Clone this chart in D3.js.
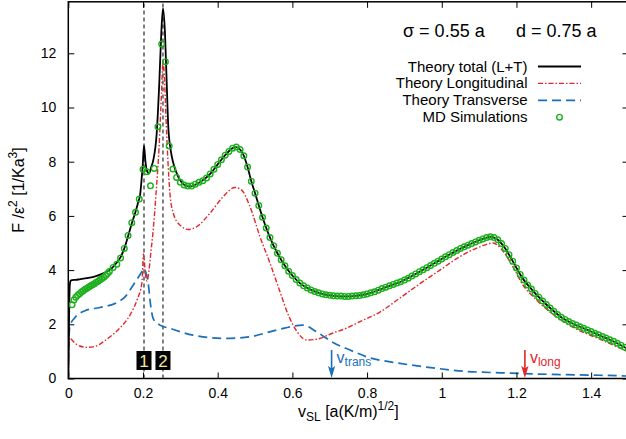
<!DOCTYPE html>
<html><head><meta charset="utf-8">
<script src="https://cdn.jsdelivr.net/npm/d3@7"></script>
<style>
body{margin:0;background:#fff}
svg{display:block}
text{font-family:"Liberation Sans",Arial,Helvetica,sans-serif}
</style>
</head><body>
<svg id="c" width="626" height="439"></svg>
<script>
// ---------- data ----------
const xTicks = [0, 0.2, 0.4, 0.6, 0.8, 1, 1.2, 1.4];
const yTicks = [0, 2, 4, 6, 8, 10, 12];

const totalV = [0,0.001,0.002,0.003,0.004,0.006,0.01,0.02,0.03,0.05,0.07,0.09,0.11,0.12,0.13,0.14,0.15,0.16,0.17,0.18,0.188,0.192,0.196,0.1992,0.2027,0.2062,0.2099,0.2161,0.222,0.2276,0.2367,0.2436,0.249,0.2535,0.2589,0.2635,0.2677,0.2742,0.2811,0.2945,0.31,0.32,0.33,0.34,0.35,0.38,0.40,0.42,0.44,0.45,0.46,0.47,0.48,0.49,0.50,0.52,0.54,0.56,0.58,0.60,0.62,0.65,0.68,0.71,0.74,0.77,0.80,0.83,0.86,0.89,0.92,0.95,0.98,1.01,1.04,1.07,1.10,1.12,1.13,1.14,1.15,1.16,1.17,1.18,1.19,1.20,1.21,1.22,1.24,1.26,1.28,1.30,1.32,1.35,1.38,1.41,1.44,1.47,1.50];
const totalF = [0,1.0,2.2,3.0,3.45,3.6,3.63,3.64,3.66,3.7,3.76,3.86,4.0,4.12,4.28,4.48,4.8,5.25,5.72,6.15,6.55,6.75,7.3,7.85,8.59,8.06,7.69,7.57,7.8,8.06,9.05,10.9,12.75,13.66,12.75,10.9,9.3,8.43,7.95,7.44,7.15,7.09,7.09,7.15,7.22,7.55,7.9,8.24,8.5,8.54,8.45,8.22,7.8,7.28,6.84,5.95,5.2,4.62,4.16,3.8,3.52,3.27,3.12,3.05,3.03,3.05,3.12,3.26,3.42,3.57,3.78,4.01,4.25,4.49,4.72,4.92,5.1,5.2,5.23,5.2,5.12,4.98,4.8,4.57,4.33,4.08,3.84,3.63,3.3,3.0,2.73,2.48,2.26,2.03,1.85,1.67,1.49,1.3,1.07];

const longV = [0,0.001,0.003,0.005,0.01,0.02,0.031,0.05,0.07,0.085,0.1,0.112,0.138,0.165,0.184,0.1973,0.2013,0.2067,0.2107,0.2161,0.2214,0.2268,0.2348,0.2429,0.2495,0.2535,0.2562,0.2616,0.2669,0.2723,0.2811,0.299,0.3213,0.3438,0.3794,0.4142,0.4463,0.4643,0.4865,0.5133,0.54,0.5668,0.589,0.6115,0.6383,0.665,0.7087,0.7454,0.781,0.8345,0.888,0.9416,0.995,1.0487,1.1022,1.137,1.1638,1.1906,1.2174,1.25,1.29,1.357,1.423,1.5];
const longF = [0,0.8,1.45,1.5,1.42,1.28,1.2,1.15,1.18,1.27,1.42,1.54,1.86,2.34,2.9,3.55,4.6,3.85,3.6,4.0,4.7,5.4,6.8,8.5,10.5,11.65,11.4,9.6,8.0,6.8,6.1,5.66,5.5,5.6,6.1,6.7,7.05,6.95,6.34,5.23,4.26,3.2,2.35,1.75,1.42,1.45,1.68,1.86,2.1,2.45,2.97,3.5,4.0,4.5,4.86,5.0,4.7,4.12,3.45,2.95,2.45,1.85,1.45,0.98];

const transV = [0,0.0013,0.0045,0.018,0.0447,0.0849,0.1296,0.1526,0.174,0.1928,0.2027,0.208,0.2142,0.2187,0.2276,0.2455,0.2723,0.3339,0.4241,0.4865,0.558,0.6292,0.665,0.7087,0.7542,0.799,0.888,0.9764,1.0667,1.158,1.244,1.334,1.423,1.5];
const transF = [0,1.4,1.95,2.25,2.5,2.62,2.8,3.02,3.45,3.85,4.04,3.9,3.5,2.9,2.2,1.97,1.85,1.6,1.48,1.54,1.79,1.97,1.72,1.33,1.05,0.8,0.56,0.39,0.26,0.21,0.17,0.14,0.12,0.09];

const mdPoints = [
[0.01,2.72],[0.015,2.9],[0.02,3.0],[0.025,3.07],[0.03,3.13],[0.035,3.19],[0.04,3.24],[0.045,3.29],[0.05,3.33],[0.055,3.38],[0.06,3.42],[0.065,3.46],[0.07,3.5],[0.075,3.55],[0.08,3.59],[0.085,3.64],[0.09,3.69],[0.095,3.74],[0.1,3.8],[0.105,3.87],[0.11,3.95],
[0.12,4.1],[0.13,4.22],[0.14,4.45],[0.15,4.8],[0.16,5.28],[0.17,5.75],[0.18,6.13],[0.19,6.62],[0.2,7.72],[0.21,7.63],[0.22,7.11],[0.23,7.75],[0.24,9.29],[0.25,12.34],[0.26,11.69],[0.27,8.58],[0.28,7.73],[0.29,7.42],[0.3,7.24],[0.31,7.14],[0.32,7.1],[0.33,7.1],[0.34,7.17],[0.35,7.24],
[0.36,7.3],[0.37,7.4],[0.38,7.55],[0.39,7.72],[0.4,7.9],[0.41,8.07],[0.42,8.24],[0.43,8.38],[0.44,8.5],[0.45,8.54],[0.46,8.45],[0.47,8.22],[0.48,7.8],[0.49,7.28],[0.5,6.84],[0.51,6.38],[0.52,5.95],[0.53,5.55],[0.54,5.2],[0.55,4.9],[0.56,4.62],[0.57,4.38],[0.58,4.16],[0.59,3.96],[0.6,3.8],
[0.61,3.65],[0.62,3.52],[0.63,3.42],[0.64,3.34],[0.65,3.27],[0.66,3.21],[0.67,3.16],[0.68,3.12],[0.69,3.09],[0.7,3.07],[0.71,3.05],[0.72,3.04],[0.73,3.04],[0.74,3.03],[0.75,3.03],[0.76,3.04],[0.77,3.05],[0.78,3.06],[0.79,3.09],[0.8,3.12],
[0.81,3.16],[0.82,3.2],[0.83,3.26],[0.84,3.32],[0.85,3.37],[0.86,3.42],[0.87,3.47],[0.88,3.52],[0.89,3.57],[0.9,3.63],[0.91,3.7],[0.92,3.78],[0.93,3.86],[0.94,3.94],[0.95,4.01],[0.96,4.09],[0.97,4.17],[0.98,4.25],[0.99,4.33],[1.0,4.41],
[1.01,4.49],[1.02,4.57],[1.03,4.65],[1.04,4.72],[1.05,4.8],[1.06,4.86],[1.07,4.92],[1.08,4.98],[1.09,5.04],[1.1,5.1],[1.11,5.15],[1.12,5.2],[1.13,5.23],[1.14,5.2],[1.15,5.12],[1.16,4.98],[1.17,4.8],[1.18,4.57],[1.19,4.33],[1.2,4.08],
[1.21,3.84],[1.22,3.63],[1.23,3.45],[1.24,3.3],[1.25,3.14],[1.26,3.0],[1.27,2.86],[1.28,2.73],[1.29,2.6],[1.3,2.48],[1.31,2.36],[1.32,2.26],[1.33,2.18],[1.34,2.1],[1.35,2.03],[1.36,1.97],[1.37,1.91],[1.38,1.85],[1.39,1.79],[1.4,1.73],
[1.41,1.67],[1.42,1.61],[1.43,1.55],[1.44,1.49],[1.45,1.43],[1.46,1.37],[1.47,1.3],[1.48,1.23],[1.49,1.15],[1.5,1.07]
];

const markerV = [0.2027, 0.2535];
const markerLabels = ["1", "2"];
const vTrans = 0.705, vLong = 1.2226;
const legendLabels = ["Theory total (L+T)", "Theory Longitudinal", "Theory Transverse", "MD Simulations"];

// ---------- styles ----------
const C_BLACK = "#000", C_RED = "#e3262b", C_BLUE = "#1a6fba", C_GREEN = "#1cb01c";

const svg = d3.select("#c");
const x = d3.scaleLinear().domain([0, 1.5]).range([68.3, 628.5]);
const y = d3.scaleLinear().domain([0, 13.9]).range([378.5, 1.8]);

svg.append("clipPath").attr("id", "clip").append("rect")
  .attr("x", x(0)).attr("y", y(13.9)).attr("width", x(1.5) - x(0)).attr("height", y(0) - y(13.9));
const plot = svg.append("g").attr("clip-path", "url(#clip)");

// vertical dashed marker lines
plot.selectAll("line.mark").data(markerV).join("line").attr("class", "mark")
  .attr("x1", d => x(d)).attr("x2", d => x(d)).attr("y1", y(0)).attr("y2", y(13.9))
  .attr("stroke", "#000").attr("stroke-width", 1).attr("stroke-dasharray", "4,3");

const line = d3.line().x(d => x(d[0])).y(d => y(d[1])).curve(d3.curveMonotoneX);

plot.append("path").datum(d3.zip(transV, transF)).attr("d", line)
  .attr("fill", "none").attr("stroke", C_BLUE).attr("stroke-width", 1.7).attr("stroke-dasharray", "9,5");
plot.append("path").datum(d3.zip(longV, longF)).attr("d", line)
  .attr("fill", "none").attr("stroke", C_RED).attr("stroke-width", 1.4).attr("stroke-dasharray", "5,2,1.5,2");
plot.append("path").datum(d3.zip(totalV, totalF)).attr("d", line)
  .attr("fill", "none").attr("stroke", C_BLACK).attr("stroke-width", 1.8);

plot.selectAll("circle.md").data(mdPoints).join("circle").attr("class", "md")
  .attr("cx", d => x(d[0])).attr("cy", d => y(d[1])).attr("r", 2.8)
  .attr("fill", "none").attr("stroke", C_GREEN).attr("stroke-width", 1.4);

// numbered boxes
const boxes = svg.append("g");
markerV.forEach((v, i) => {
  boxes.append("rect").attr("x", x(v) - 7.5).attr("y", 351).attr("width", 15).attr("height", 19).attr("fill", "#000");
  boxes.append("text").attr("x", x(v)).attr("y", 367).attr("text-anchor", "middle")
    .attr("font-size", 17).attr("fill", "#f3eaa5").text(markerLabels[i]);
});

// axes
const fmt = d => String(+d.toFixed(1));
function styleAxis(g) {
  g.select(".domain").remove();
  g.selectAll(".tick line").attr("stroke", "#000").attr("stroke-width", 1);
  g.selectAll("text").attr("font-size", 14).attr("fill", "#000")
    .attr("font-family", '"Liberation Sans",Arial,sans-serif');
}
svg.append("g").attr("transform", `translate(0,${y(0)})`)
  .call(d3.axisBottom(x).tickValues(xTicks).tickSizeInner(-6).tickSizeOuter(0).tickPadding(10).tickFormat(fmt)).call(styleAxis);
svg.append("g").attr("transform", `translate(0,${y(13.9)})`)
  .call(d3.axisTop(x).tickValues(xTicks).tickSizeInner(-6).tickSizeOuter(0).tickFormat("")).call(styleAxis);
svg.append("g").attr("transform", `translate(${x(0)},0)`)
  .call(d3.axisLeft(y).tickValues(yTicks).tickSizeInner(-6).tickSizeOuter(0).tickPadding(12).tickFormat(d => String(d))).call(styleAxis);
svg.append("g").attr("transform", `translate(${x(1.5)},0)`)
  .call(d3.axisRight(y).tickValues(yTicks).tickSizeInner(-6).tickSizeOuter(0).tickFormat("")).call(styleAxis);

// frame
svg.append("rect").attr("x", x(0)).attr("y", y(13.9)).attr("width", x(1.5) - x(0)).attr("height", y(0) - y(13.9))
  .attr("fill", "none").attr("stroke", "#000").attr("stroke-width", 1.5);

// axis titles
const xl = svg.append("text").attr("x", 298).attr("y", 417).attr("font-size", 16).attr("fill", "#000");
xl.append("tspan").text("v");
xl.append("tspan").attr("font-size", 12).attr("dy", 4).text("SL");
xl.append("tspan").attr("dy", -4).text(" [a(K/m)");
xl.append("tspan").attr("font-size", 12).attr("dy", -7).text("1/2");
xl.append("tspan").attr("dy", 7).text("]");

const yl = svg.append("text").attr("transform", "translate(24,190) rotate(-90)")
  .attr("text-anchor", "middle").attr("font-size", 16).attr("fill", "#000");
yl.append("tspan").text("F /ε");
yl.append("tspan").attr("font-size", 12).attr("dy", -7).text("2");
yl.append("tspan").attr("dy", 7).text(" [1/Ka");
yl.append("tspan").attr("font-size", 12).attr("dy", -7).text("3");
yl.append("tspan").attr("dy", 7).text("]");

// parameters
svg.append("text").attr("x", 403).attr("y", 36.5).attr("font-size", 18).text("σ = 0.55 a");
svg.append("text").attr("x", 516).attr("y", 36.5).attr("font-size", 18).text("d = 0.75 a");

// legend
const lg = svg.append("g");
const rowY = i => 71.5 + i * 16.9;
legendLabels.forEach((t, i) => {
  lg.append("text").attr("x", 527.5).attr("y", rowY(i)).attr("text-anchor", "end").attr("font-size", 15).text(t);
});
lg.append("line").attr("x1", 538).attr("x2", 581).attr("y1", rowY(0) - 5).attr("y2", rowY(0) - 5)
  .attr("stroke", C_BLACK).attr("stroke-width", 1.8);
lg.append("line").attr("x1", 538).attr("x2", 581).attr("y1", rowY(1) - 5).attr("y2", rowY(1) - 5)
  .attr("stroke", C_RED).attr("stroke-width", 1.4).attr("stroke-dasharray", "5,2,1.5,2");
lg.append("line").attr("x1", 538).attr("x2", 581).attr("y1", rowY(2) - 5).attr("y2", rowY(2) - 5)
  .attr("stroke", C_BLUE).attr("stroke-width", 1.7).attr("stroke-dasharray", "9,5");
lg.append("circle").attr("cx", 559.5).attr("cy", rowY(3) - 5).attr("r", 2.8)
  .attr("fill", "none").attr("stroke", C_GREEN).attr("stroke-width", 1.4);

// velocity arrows
function arrow(v, color, sub) {
  const ax = x(v);
  svg.append("line").attr("x1", ax).attr("x2", ax).attr("y1", 350).attr("y2", 370)
    .attr("stroke", color).attr("stroke-width", 1.6);
  svg.append("path").attr("d", `M${ax},${y(0) - 0.5} L${ax - 3.6},${366} L${ax},${368.5} L${ax + 3.6},${366} Z`)
    .attr("fill", color);
  const t = svg.append("text").attr("x", ax + 5).attr("y", 363).attr("font-size", 16).attr("fill", color);
  t.append("tspan").text("v");
  t.append("tspan").attr("font-size", 12).attr("dy", 3).text(sub);
}
arrow(vTrans, C_BLUE, "trans");
arrow(vLong, C_RED, "long");
</script>
</body></html>
